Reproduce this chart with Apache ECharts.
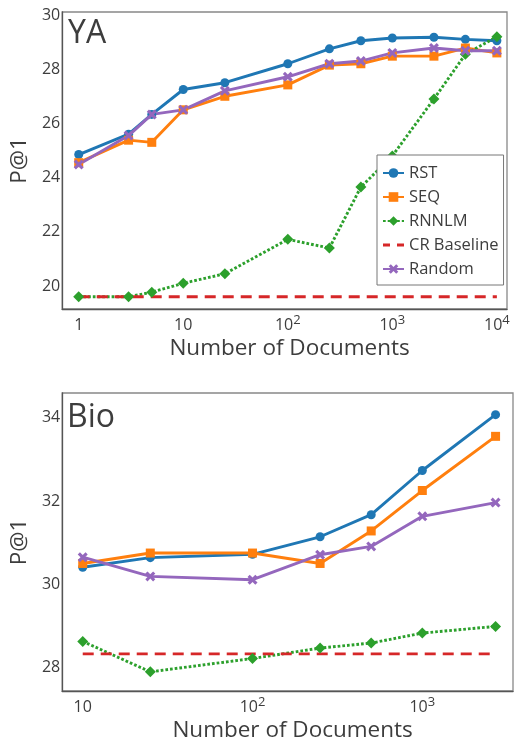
<!DOCTYPE html>
<html><head><meta charset="utf-8">
<script src="https://cdn.jsdelivr.net/npm/echarts@6/dist/echarts.min.js"></script>
<style>html,body{margin:0;padding:0;background:#fff}#c{width:516px;height:745px}</style>
</head><body><div id="c"></div>
<script>
// ---- data ----
const seriesNames = ['RST', 'SEQ', 'RNNLM', 'CR Baseline', 'Random'];
const yaDocs    = [1, 3, 5, 10, 25, 100, 250, 500, 1000, 2500, 5000, 10000];
const yaRST     = [24.85, 25.6, 26.33, 27.25, 27.5, 28.2, 28.75, 29.05, 29.15, 29.18, 29.1, 29.05];
const yaSEQ     = [24.55, 25.38, 25.3, 26.5, 27.0, 27.42, 28.15, 28.2, 28.48, 28.48, 28.78, 28.6];
const yaRNNLM   = [19.6, 19.6, 19.77, 20.1, 20.45, 21.72, 21.4, 23.65, 24.8, 26.9, 28.55, 29.2];
const yaRandom  = [24.48, 25.55, 26.33, 26.5, 27.2, 27.72, 28.2, 28.3, 28.6, 28.78, 28.68, 28.68];
const yaCR      = 19.6;

const bioDocs   = [10, 25, 100, 250, 500, 1000, 2700];
const bioRST    = [30.41, 30.64, 30.72, 31.14, 31.67, 32.73, 34.07];
const bioSEQ    = [30.5, 30.75, 30.75, 30.5, 31.28, 32.25, 33.55];
const bioRNNLM  = [28.63, 27.9, 28.22, 28.47, 28.59, 28.83, 28.99];
const bioRandom = [30.65, 30.19, 30.11, 30.71, 30.91, 31.63, 31.96];
const bioCR     = 28.33;

const panelTitles = ['YA', 'Bio'];
const xAxisName = 'Number of Documents';
const yAxisName = 'P@1';

// ---- styles ----
const FONT = '"Open Sans", "DejaVu Sans", sans-serif';
const TXT = '#3d3d3d';
const colors = { 'RST': '#1f77b4', 'SEQ': '#ff7f0e', 'RNNLM': '#2ca02c', 'CR Baseline': '#d62728', 'Random': '#9467bd' };
const XPATH = 'path://M0,2.2L2.2,0L5,2.8L7.8,0L10,2.2L7.2,5L10,7.8L7.8,10L5,7.2L2.2,10L0,7.8L2.8,5Z';
const symbols = { 'RST': 'circle', 'SEQ': 'rect', 'RNNLM': 'diamond', 'CR Baseline': 'none', 'Random': XPATH };
const symSizes = { 'RST': 9, 'SEQ': 9, 'RNNLM': 11, 'CR Baseline': 0, 'Random': 10 };
const lineTypes = { 'RST': 'solid', 'SEQ': 'solid', 'RNNLM': [2.7, 2], 'CR Baseline': [11, 7], 'Random': 'solid' };

function pairs(xs, ys) { return xs.map((x, i) => [x, ys[i]]); }
function constPairs(xs, v) { return xs.map(x => [x, v]); }

function logLabel(v) {
  const e = Math.log10(v);
  const r = Math.round(e);
  if (Math.abs(e - r) > 1e-6) return '';
  if (r === 0) return '{b|1}';
  if (r === 1) return '{b|10}';
  return '{b|10}{s|' + r + '}';
}
function evenLabel(v) {
  return Math.abs(v / 2 - Math.round(v / 2)) < 1e-6 ? String(Math.round(v)) : '';
}

function makeSeries(name, data, gi) {
  return {
    name: name, type: 'line', xAxisIndex: gi, yAxisIndex: gi,
    data: data,
    symbol: symbols[name], symbolSize: symSizes[name], showSymbol: name !== 'CR Baseline',
    lineStyle: { color: colors[name], width: 2.9, type: lineTypes[name], cap: 'butt' },
    itemStyle: { color: colors[name] },
    emphasis: { disabled: true },
    animation: false, z: 2
  };
}

const axisLineStyle = { color: '#555', width: 1.3 };

function xAxisCfg(gi, min, max) {
  return {
    type: 'log', logBase: 10, gridIndex: gi, min: min, max: max,
    axisLine: { show: true, onZero: false, lineStyle: axisLineStyle },
    axisTick: { show: false }, minorTick: { show: false },
    splitLine: { show: false }, minorSplitLine: { show: false },
    axisLabel: {
      formatter: logLabel, margin: 5, color: TXT,
      rich: {
        b: { fontSize: 16, lineHeight: 22, fontFamily: FONT, color: TXT },
        s: { fontSize: 13, lineHeight: 13, verticalAlign: 'top', fontFamily: FONT, color: TXT }
      }
    },
    name: xAxisName, nameLocation: 'middle', nameGap: 28,
    nameTextStyle: { fontSize: 22.5, fontFamily: FONT, color: TXT, padding: [0, 0, 0, 10] }
  };
}
function yAxisCfg(gi, min, max, split) {
  return {
    type: 'value', gridIndex: gi, min: min, max: max, splitNumber: split,
    axisLine: { show: true, lineStyle: axisLineStyle },
    axisTick: { show: false }, splitLine: { show: false },
    axisLabel: { formatter: evenLabel, margin: 2, fontSize: 16, fontFamily: FONT, color: TXT },
    name: yAxisName, nameLocation: 'middle', nameGap: 26,
    nameTextStyle: { fontSize: 22.5, fontFamily: FONT, color: TXT }
  };
}

const series = [];
const yaData = { 'RST': pairs(yaDocs, yaRST), 'SEQ': pairs(yaDocs, yaSEQ), 'RNNLM': pairs(yaDocs, yaRNNLM),
                 'CR Baseline': constPairs(yaDocs, yaCR), 'Random': pairs(yaDocs, yaRandom) };
const bioData = { 'RST': pairs(bioDocs, bioRST), 'SEQ': pairs(bioDocs, bioSEQ), 'RNNLM': pairs(bioDocs, bioRNNLM),
                  'CR Baseline': constPairs(bioDocs, bioCR), 'Random': pairs(bioDocs, bioRandom) };
seriesNames.forEach(n => series.push(makeSeries(n, yaData[n], 0)));
seriesNames.forEach(n => series.push(makeSeries(n, bioData[n], 1)));

const chart = echarts.init(document.getElementById('c'), null, { renderer: 'canvas' });
chart.setOption({
  animation: false,
  backgroundColor: '#fff',
  textStyle: { fontFamily: FONT },
  title: [
    { text: panelTitles[0], left: 68, top: 18, padding: 0, textStyle: { fontSize: 32, fontWeight: 'normal', fontFamily: FONT, color: TXT } },
    { text: panelTitles[1], left: 67, top: 402, padding: 0, textStyle: { fontSize: 32, fontWeight: 'normal', fontFamily: FONT, color: TXT } }
  ],
  grid: [
    { left: 62, top: 12, right: 9, height: 297, show: true, borderColor: '#888', borderWidth: 1.3, backgroundColor: 'transparent' },
    { left: 62, top: 393, right: 1, height: 298, show: true, borderColor: '#888', borderWidth: 1.3, backgroundColor: 'transparent' }
  ],
  xAxis: [ xAxisCfg(0, 0.695, 12500), xAxisCfg(1, 7.57, 3420) ],
  yAxis: [ yAxisCfg(0, 19.15, 30.11, 5), yAxisCfg(1, 27.44, 34.59, 4) ],
  legend: {
    orient: 'vertical', left: 377, top: 155,
    padding: [9, 5, 7, 5], itemGap: 6, itemWidth: 21, itemHeight: 12,
    backgroundColor: '#fff', borderColor: '#777', borderWidth: 1, borderRadius: 0,
    textStyle: { fontSize: 16.5, lineHeight: 18, fontFamily: FONT, color: TXT },
    data: [
      { name: 'RST' }, { name: 'SEQ' }, { name: 'RNNLM' },
      { name: 'CR Baseline', icon: 'path://M0,0L0,0M0,4.6L7,4.6L7,7.4L0,7.4ZM14,4.6L21,4.6L21,7.4L14,7.4ZM21,12L21,12' },
      { name: 'Random' }
    ]
  },
  series: series
});
</script>
</body></html>
